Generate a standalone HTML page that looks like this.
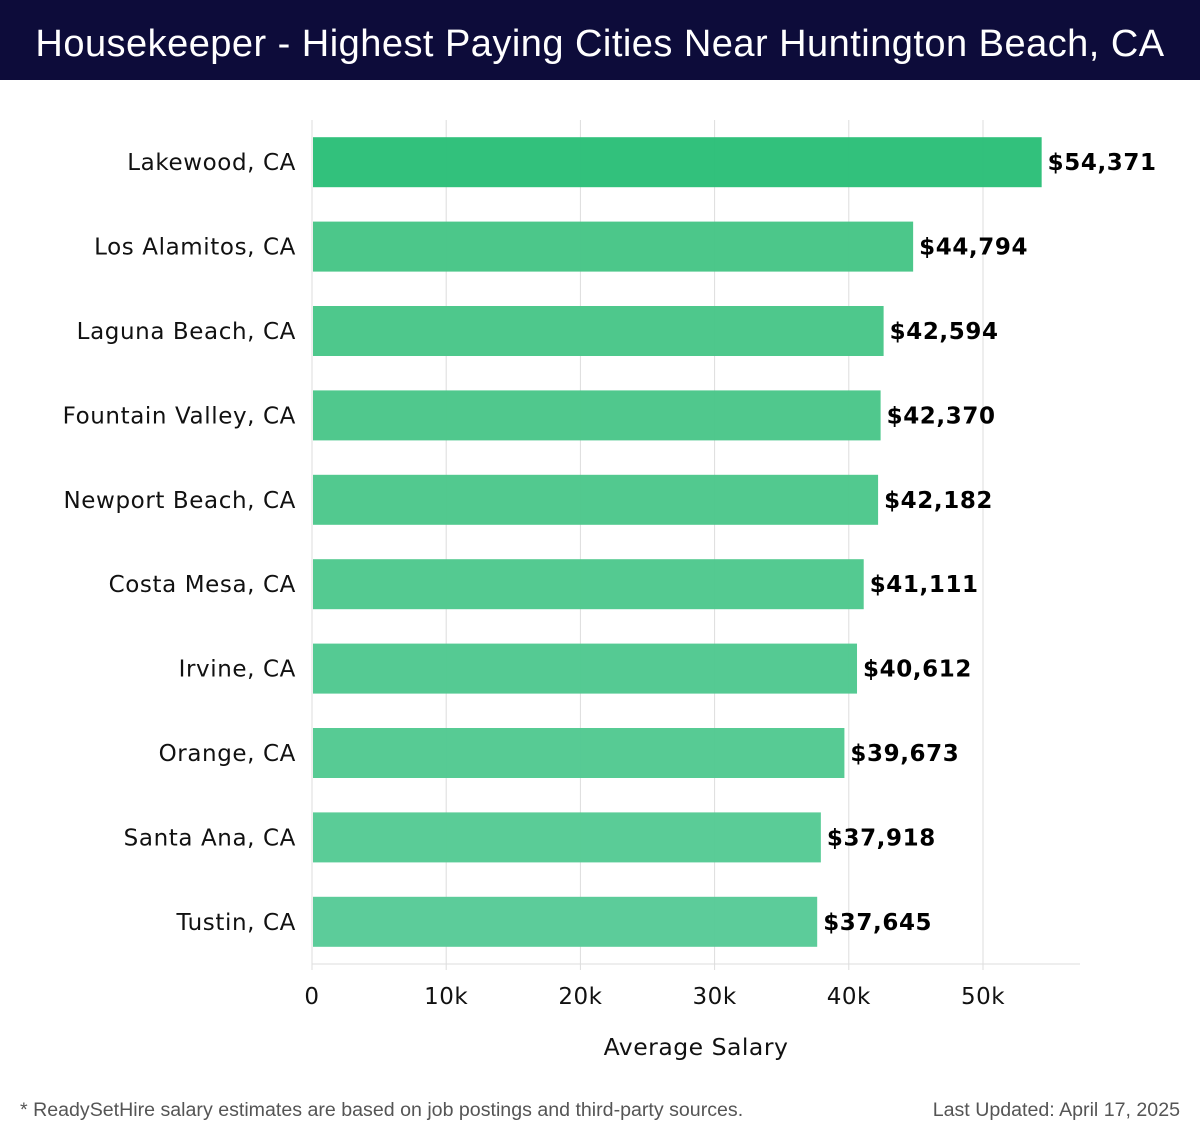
<!DOCTYPE html>
<html><head><meta charset="utf-8"><style>
body{margin:0;width:1200px;height:1140px;background:#fff;overflow:hidden;font-family:"DejaVu Sans","Liberation Sans",sans-serif}
#hdr{position:absolute;left:0;top:0;width:1200px;height:80px;background:#0d0c3a;color:#fff;font-family:"Liberation Sans",sans-serif;font-size:38px;letter-spacing:0.47px;line-height:88px;text-align:center;font-weight:300}
.foot{position:absolute;top:1099px;font-size:19.6px;color:#555;font-family:"Liberation Sans",sans-serif}
</style></head><body>
<div id="hdr">Housekeeper - Highest Paying Cities Near Huntington Beach, CA</div>
<svg id="chart" width="1200" height="1140" style="position:absolute;left:0;top:0"></svg>
<div class="foot" style="left:20px">* ReadySetHire salary estimates are based on job postings and third-party sources.</div>
<div class="foot" style="right:20px">Last Updated: April 17, 2025</div>
<script>
const categories=["Lakewood, CA","Los Alamitos, CA","Laguna Beach, CA","Fountain Valley, CA","Newport Beach, CA","Costa Mesa, CA","Irvine, CA","Orange, CA","Santa Ana, CA","Tustin, CA"];
const salaries=[54371,44794,42594,42370,42182,41111,40612,39673,37918,37645];
const ticks=[0,10000,20000,30000,40000,50000];
const tickLabels=["0","10k","20k","30k","40k","50k"];
const svg=document.getElementById('chart');const NS='http://www.w3.org/2000/svg';
const x0=312,pxPer=671/50000,top0=120,band=84.4,barH=50,xEnd=1080,yBase=964;
const X=v=>x0+v*pxPer;const Y=i=>top0+band*i+band/2;
function mk(t,a,txt){const e=document.createElementNS(NS,t);for(const k in a)e.setAttribute(k,a[k]);if(txt!==undefined)e.textContent=txt;svg.appendChild(e);return e;}
ticks.forEach((t,i)=>{
 const g=mk('line',{x1:X(t),x2:X(t),y1:top0,y2:yBase+6,stroke:'#ddd','stroke-width':1});
 
 
 const l=mk('text',{x:X(t),y:1004,'text-anchor':'middle','font-size':23,'letter-spacing':0.5,fill:'#111'},tickLabels[i]);
 
 
});
const ax=mk('line',{x1:x0,x2:xEnd,y1:yBase,y2:yBase,stroke:'#ddd','stroke-width':1});


const cols=['#2bbf78','#46c586','#48c688','#4ac689','#4cc78b','#4ec88d','#50c88f','#52c991','#55ca94','#57ca97'];
categories.forEach((c,i)=>{
 const r=mk('rect',{x:x0+1,y:Y(i)-barH/2,width:X(salaries[i])-x0-1,height:barH,fill:cols[i],'fill-opacity':0.97});
 
 
 const l=mk('text',{x:296,y:Y(i)+8,'text-anchor':'end','font-size':23,'letter-spacing':0.6,fill:'#111'},c);
 
 
 const v=mk('text',{x:X(salaries[i])+6,y:Y(i)+8,'font-size':23,'letter-spacing':0.6,'font-weight':'bold',fill:'#000'},'$'+salaries[i].toLocaleString('en-US'));
 
 
});
const xt=mk('text',{x:696,y:1055,'text-anchor':'middle','font-size':23.5,'letter-spacing':0.5,fill:'#111'},'Average Salary');


</script>
</body></html>
